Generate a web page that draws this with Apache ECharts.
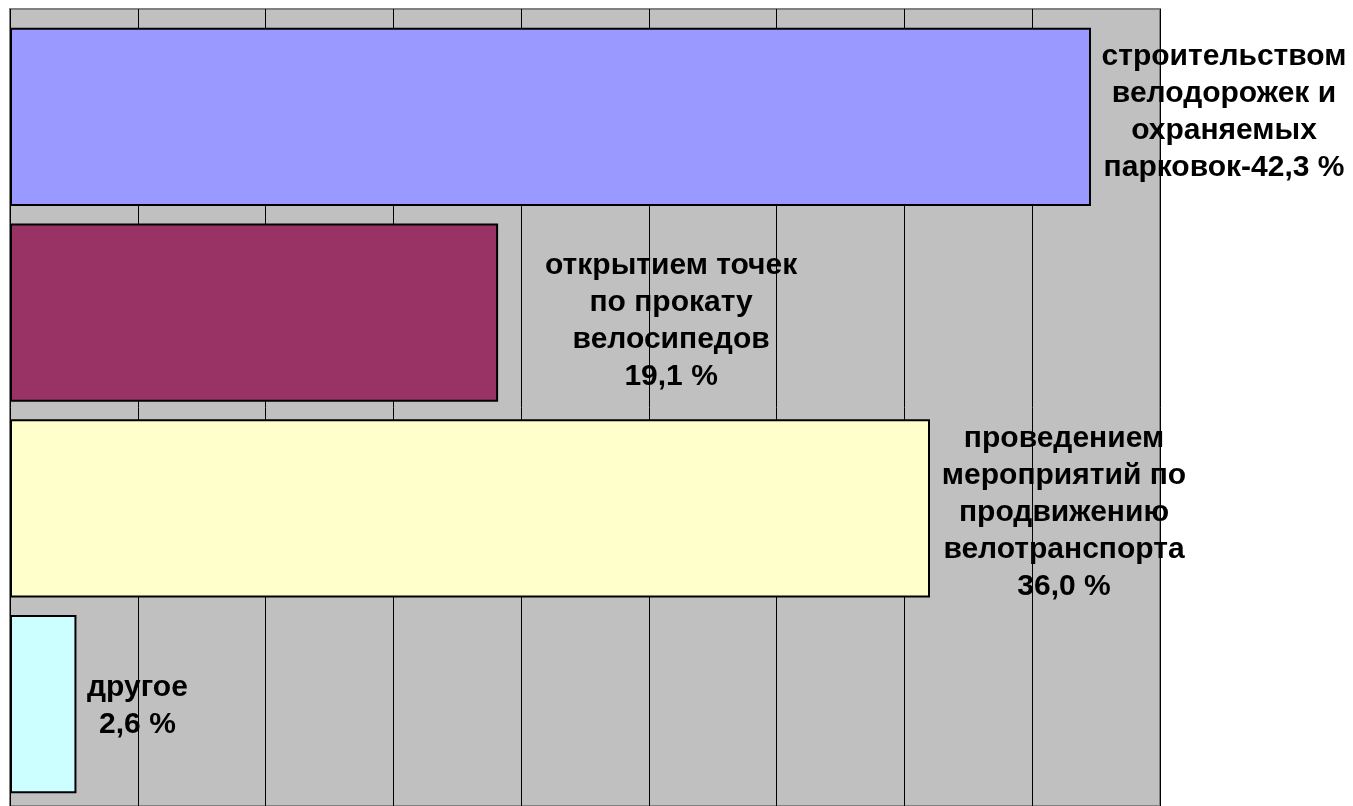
<!DOCTYPE html>
<html>
<head>
<meta charset="utf-8">
<style>
html, body { margin: 0; padding: 0; background: #fff; }
#main { width: 1353px; height: 806px; }
</style>
<script src="https://cdn.jsdelivr.net/npm/echarts@6/dist/echarts.min.js"></script>
</head>
<body>
<div id="main"></div>
<script>
// данные
var categories = [
    'строительством велодорожек и охраняемых парковок',
    'открытием точек по прокату велосипедов',
    'проведением мероприятий по продвижению велотранспорта',
    'другое'
];
var values = [42.3, 19.1, 36.0, 2.6];
// подписи с переносами строк, значение дописывается в последнюю строку
var labelLines = [
    ['строительством', 'велодорожек и', 'охраняемых', 'парковок-'],
    ['открытием точек', 'по прокату', 'велосипедов', ''],
    ['проведением', 'мероприятий по', 'продвижению', 'велотранспорта', ''],
    ['другое', '']
];
var axisTicks = [0, 5, 10, 15, 20, 25, 30, 35, 40, 45];

var barColors = ['#9999FF', '#993366', '#FFFFCC', '#CCFFFF'];
var labelOffsets = [[133, -5], [173, 9], [134, 4], [61, 2]];

function fmt(v) {
    return v.toFixed(1).replace('.', ',') + ' %';
}

var myChart = echarts.init(document.getElementById('main'));

var barData = values.map(function (v, i) {
    var lines = labelLines[i].slice();
    lines[lines.length - 1] = lines[lines.length - 1] + fmt(v);
    return {
        value: v,
        itemStyle: { color: barColors[i] },
        label: {
            offset: labelOffsets[i],
            formatter: lines.join('\n')
        }
    };
});

myChart.setOption({
    animation: false,
    grid: [{
        // серый фон и сетка
        left: 10, width: 1150, top: 9, bottom: -20,
        show: true,
        backgroundColor: '#C0C0C0',
        borderColor: '#808080',
        borderWidth: 2
    }, {
        left: 10, width: 1150, top: 19, height: 783
    }],
    xAxis: [{
        gridIndex: 0,
        type: 'value',
        min: axisTicks[0],
        max: axisTicks[axisTicks.length - 1],
        interval: axisTicks[1] - axisTicks[0],
        axisLine: { show: false },
        axisTick: { show: false },
        axisLabel: { show: false },
        splitLine: { show: true, lineStyle: { color: '#000', width: 1 } }
    }, {
        gridIndex: 1,
        type: 'value',
        min: axisTicks[0],
        max: axisTicks[axisTicks.length - 1],
        show: false,
        splitLine: { show: false }
    }],
    yAxis: [{
        gridIndex: 0,
        type: 'category',
        data: categories,
        show: false
    }, {
        gridIndex: 1,
        type: 'category',
        data: categories,
        inverse: true,
        show: false
    }],
    series: [{
        type: 'bar',
        xAxisIndex: 1,
        yAxisIndex: 1,
        data: barData,
        barCategoryGap: '9%',
        itemStyle: { borderColor: '#000', borderWidth: 2 },
        label: {
            show: true,
            position: ['100%', '50%'],
            align: 'center',
            verticalAlign: 'middle',
            color: '#000',
            fontFamily: '"Liberation Sans", Arial, sans-serif',
            fontWeight: 'bold',
            fontSize: 30,
            lineHeight: 37
        }
    }]
});
</script>
</body>
</html>
